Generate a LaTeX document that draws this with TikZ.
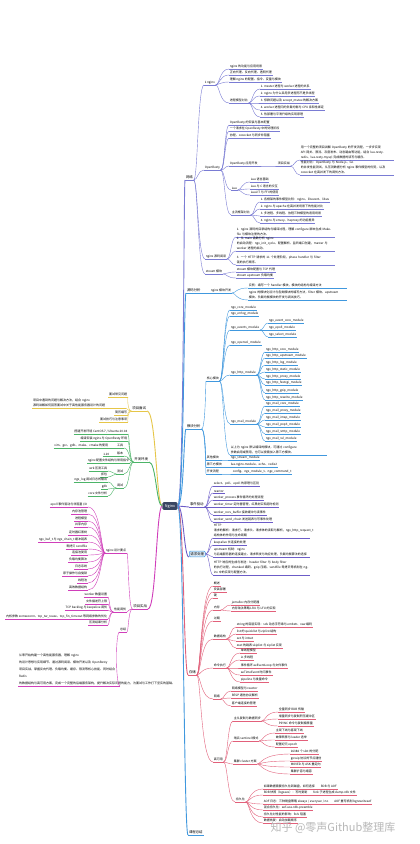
\documentclass[tikz,border=0pt]{standalone}
\usepackage{fontspec}
\setmainfont{Noto Sans CJK SC}
\usetikzlibrary{calc}

\definecolor{croot}{RGB}{58,70,98}
\definecolor{cnet}{RGB}{122,124,212}
\definecolor{cblue}{RGB}{64,152,222}
\definecolor{cpurp}{RGB}{108,92,200}
\definecolor{cred}{RGB}{226,96,122}
\definecolor{cyel}{RGB}{230,198,72}
\definecolor{cgrn}{RGB}{76,180,104}
\definecolor{cmag}{RGB}{208,62,186}

\tikzset{
  curvy/.style={to path={(\tikztostart) .. controls ($(\tikztostart)+(#1,0)$) and ($(\tikztostart |- \tikztotarget)+(#1,0)$) .. (\tikztotarget)}},
  rlink/.style={curvy=4, draw=#1, line width=.4pt},
  llink/.style={curvy=-4, draw=#1, line width=.4pt},
  rtrunk/.style={curvy=6, draw=#1, line width=.9pt},
  ltrunk/.style={curvy=-6, draw=#1, line width=.9pt},
  uline/.style={append after command={(\tikzlastnode.south west) edge[draw=#1, line width=.4pt] (\tikzlastnode.south east)}},
  leaf/.style={uline=#1, inner sep=.6pt, anchor=south west, font=\fontsize{3}{5}\selectfont},
  lleaf/.style={leaf=#1, anchor=south east},
  para/.style 2 args={leaf=#1, text width=#2pt, align=left},
  lpara/.style 2 args={lleaf=#1, text width=#2pt, align=left},
  topic/.style={append after command={(\tikzlastnode.south west) edge[draw=#1, line width=.9pt] (\tikzlastnode.south east)}, inner sep=.8pt, anchor=south west, font=\fontsize{3.4}{4}\selectfont},
  ltopic/.style={topic=#1, anchor=south east},
  rootbox/.style={fill=croot, text=white, rounded corners=1.5pt, inner xsep=2.5pt, inner ysep=2pt, font=\fontsize{3.8}{4}\selectfont},
  reqbox/.style={fill=cblue!18, draw=cblue, line width=.5pt, rounded corners=1pt, inner sep=1.2pt, anchor=south west, font=\fontsize{3.4}{4}\selectfont},
  wmark/.style={text=black!28, font=\fontsize{11}{12}\selectfont}
}

\begin{document}
\begin{tikzpicture}[x=1pt,y=-1pt]
\fill[white] (0,0) rectangle (420,844);
\useasboundingbox (0,0) rectangle (420,844);

% centre
\node[rootbox] (root) at (170,506) {Nginx};

% first level, right
\node[topic=cnet] (net) at (185,180) {网络};
\node[topic=cblue] (src) at (186,293) {源码分析};
\node[topic=cblue] (mod) at (186,429) {模块分析};
\node[topic=cpurp] (evt) at (189,507) {事件驱动};
\node[reqbox] (req) at (189,557) {请求处理};
\node[topic=cred] (sto) at (188,675) {存储};
\node[topic=cblue] (bot) at (188,835) {课程总结};

% first level, left
\node[ltopic=cyel] (itv) at (147,411) {项目面试};
\node[ltopic=cgrn] (env) at (149,462) {开发环境};
\node[ltopic=cmag] (prj) at (148,609) {项目实战};

\foreach \b/\col in {net/cnet,src/cblue,mod/cblue,evt/cpurp,req/cpurp,sto/cred,bot/cblue}
  \draw[rtrunk=\col] (root.east) to (\b.south west);
\foreach \b/\col in {itv/cyel,env/cgrn,prj/cmag}
  \draw[ltrunk=\col] (root.west) to (\b.south east);

%% ---- 网络
\node[leaf=cnet] (n1) at (204,85) {1 nginx};
\foreach \yy/\txt [count=\i] in {69/{nginx 的功能与应用场景},75/{正向代理、反向代理、透明代理},82/{理解 nginx 的配置、指令、变量与模块}}
  \node[leaf=cnet] (n1\i) at (229,\yy) {\txt};
\node[leaf=cnet] (n1m) at (229,103) {进程模型对比};
\foreach \yy/\txt [count=\i] in {89/{1. master 进程与 worker 进程的关系},96/{2. nginx 为什么采用多进程而不是多线程},103/{3. 惊群问题以及 accept\_mutex 的解决方案},110/{4. worker 进程间的负载均衡与 CPU 亲和性绑定},117/{5. 热部署与平滑升级的实现原理}}
  \node[leaf=cnet] (n1m\i) at (260,\yy) {\txt};

\node[leaf=cnet] (n2) at (204,170) {OpenResty};
\foreach \yy/\txt [count=\i] in {125/{OpenResty 的安装与基本配置},131/{一个请求在 OpenResty 中的处理阶段},138/{协程、cosocket 与同步非阻塞}}
  \node[leaf=cnet] (n2\i) at (229,\yy) {\txt};
\node[leaf=cnet] (n2d) at (229,166) {OpenResty 应用开发};
\node[leaf=cnet] (n2e) at (277,166) {项目实战};
\node[para={cnet}{92}] (n2p1) at (300,160) {用一个完整的项目讲解 OpenResty 的开发流程，一步步实现 API 网关、限流、灰度发布、动态路由等功能，结合 lua-resty-redis、lua-resty-mysql 完成数据的读写与缓存。};
\node[para={cnet}{92}] (n2p2) at (300,175) {性能对比：OpenResty 与 Node.js、Go 的并发性能测试，从压测数据分析 nginx 事件模型的优势，以及 cosocket 在高并发下的调优方法。};
\node[leaf=cnet] (n2f) at (231,190) {Lua};
\foreach \yy/\txt [count=\i] in {182/{Lua 语言基础},189/{Lua 与 C 语言的交互},195/{LuaJIT 与 FFI 的使用}}
  \node[leaf=cnet] (n2f\i) at (250,\yy) {\txt};
\node[leaf=cnet] (n2g) at (231,215) {主流框架对比};
\foreach \yy/\txt [count=\i] in {202/{1. 各框架的事件模型比较：nginx、libevent、libuv},209/{2. nginx 与 apache 在高并发场景下的性能对比},216/{3. 多进程、多线程、协程三种模型的适用场景},223/{4. nginx 与 envoy、haproxy 的功能差异}}
  \node[leaf=cnet] (n2g\i) at (260,\yy) {\txt};

\node[leaf=cnet] (n3) at (205,259) {nginx 源码阅读};
\node[para={cnet}{97}] (n3p1) at (236,237) {1. nginx 源码的目录结构与编译过程，理解 configure 脚本生成 Makefile 与模块注册的方法。};
\node[para={cnet}{97}] (n3p2) at (236,251) {2. 从 main 函数分析 nginx 的启动流程：ngx\_init\_cycle、配置解析、监听端口创建，master 与 worker 进程的启动。};
\node[para={cnet}{97}] (n3p3) at (236,265) {3. 一个 HTTP 请求的 11 个处理阶段，phase handler 与 filter 链的执行顺序。};
\node[leaf=cnet] (n4) at (205,274) {stream 模块};
\node[leaf=cnet] (n4a) at (236,272) {stream 模块配置与 TCP 代理};
\node[leaf=cnet] (n4b) at (236,278) {stream upstream 负载均衡};

\foreach \ch in {n1,n2,n3,n4} \draw[rlink=cnet] (net.south east) to (\ch.south west);
\foreach \ch in {n11,n12,n13,n1m} \draw[rlink=cnet] (n1.south east) to (\ch.south west);
\foreach \i in {1,...,5} \draw[rlink=cnet] (n1m.south east) to (n1m\i.south west);
\foreach \ch in {n21,n22,n23,n2d,n2f,n2g} \draw[rlink=cnet] (n2.south east) to (\ch.south west);
\draw[rlink=cnet] (n2d.south east) to (n2e.south west);
\foreach \ch in {n2p1,n2p2} \draw[rlink=cnet] (n2e.south east) to (\ch.south west);
\foreach \i in {1,2,3} \draw[rlink=cnet] (n2f.south east) to (n2f\i.south west);
\foreach \i in {1,...,4} \draw[rlink=cnet] (n2g.south east) to (n2g\i.south west);
\foreach \ch in {n3p1,n3p2,n3p3} \draw[rlink=cnet] (n3.south east) to (\ch.south west);
\foreach \ch in {n4a,n4b} \draw[rlink=cnet] (n4.south east) to (\ch.south west);

%% ---- 源码分析
\node[leaf=cblue] (s1) at (210,293) {nginx 模块开发};
\node[para={cblue}{97}] (s1a) at (248,288) {实例：编写一个 handler 模块，模块的结构与编译方法};
\node[para={cblue}{97}] (s1b) at (248,300) {nginx 的模块化设计与各类模块的编写方法，filter 模块、upstream 模块、负载均衡模块的开发与调试技巧。};
\draw[rlink=cblue] (src.south east) to (s1.south west);
\foreach \ch in {s1a,s1b} \draw[rlink=cblue] (s1.south east) to (\ch.south west);

%% ---- 模块分析
\node[leaf=cblue] (m1) at (206,381) {核心模块};
\node[leaf=cblue] (m1a) at (230,310) {ngx\_core\_module};
\node[leaf=cblue] (m1b) at (230,316) {ngx\_errlog\_module};
\node[leaf=cblue] (m1c) at (230,330) {ngx\_events\_module};
\foreach \yy/\txt [count=\i] in {323/{ngx\_event\_core\_module},330/{ngx\_epoll\_module},337/{ngx\_select\_module}}
  \node[leaf=cblue] (m1c\i) at (268,\yy) {\txt};
\node[leaf=cblue] (m1d) at (230,345) {ngx\_openssl\_module};
\node[leaf=cblue] (m1e) at (230,375) {ngx\_http\_module};
\foreach \yy/\txt [count=\i] in {352/{ngx\_http\_core\_module},358/{ngx\_http\_upstream\_module},365/{ngx\_http\_log\_module},372/{ngx\_http\_static\_module},379/{ngx\_http\_proxy\_module},385/{ngx\_http\_fastcgi\_module},393/{ngx\_http\_gzip\_module},400/{ngx\_http\_rewrite\_module}}
  \node[leaf=cblue] (m1e\i) at (265,\yy) {\txt};
\node[leaf=cblue] (m1f) at (230,424) {ngx\_mail\_module};
\foreach \yy/\txt [count=\i] in {406/{ngx\_mail\_core\_module},413/{ngx\_mail\_proxy\_module},420/{ngx\_mail\_imap\_module},427/{ngx\_mail\_pop3\_module},434/{ngx\_mail\_smtp\_module},441/{ngx\_mail\_ssl\_module}}
  \node[leaf=cblue] (m1f\i) at (265,\yy) {\txt};
\node[para={cblue}{95}] (m1g) at (230,455) {以上为 nginx 默认编译的模块，可通过 configure 参数启用或禁用，也可以按需加入第三方模块。};
\node[leaf=cblue] (m2) at (206,460) {其他模块};
\node[leaf=cblue] (m2a) at (230,460) {ngx\_stream\_module};
\node[leaf=cblue] (m3) at (206,467) {第三方模块};
\node[leaf=cblue] (m3a) at (230,467) {lua-nginx-module、echo、redis2};
\node[leaf=cblue] (m4) at (206,474) {开发流程};
\node[leaf=cblue] (m4a) at (232,474) {config、ngx\_module\_t、ngx\_command\_t};

\foreach \ch in {m1,m2,m3,m4} \draw[rlink=cblue] (mod.south east) to (\ch.south west);
\foreach \ch in {m1a,m1b,m1c,m1d,m1e,m1f,m1g} \draw[rlink=cblue] (m1.south east) to (\ch.south west);
\foreach \i in {1,2,3} \draw[rlink=cblue] (m1c.south east) to (m1c\i.south west);
\foreach \i in {1,...,8} \draw[rlink=cblue] (m1e.south east) to (m1e\i.south west);
\foreach \i in {1,...,6} \draw[rlink=cblue] (m1f.south east) to (m1f\i.south west);
\draw[rlink=cblue] (m2.south east) to (m2a.south west);
\draw[rlink=cblue] (m3.south east) to (m3a.south west);
\draw[rlink=cblue] (m4.south east) to (m4a.south west);

%% ---- 事件驱动
\foreach \yy/\txt [count=\i] in {486/{select、poll、epoll 的原理与区别},493/{reactor},500/{worker\_process 事件循环的处理流程},507/{worker\_timer 定时器管理，红黑树实现超时检测},515/{worker\_recv\_buffer 接收缓冲与读事件},522/{worker\_send\_chain 发送链表与写事件处理}}
  \node[leaf=cpurp] (e\i) at (213,\yy) {\txt};
\foreach \i in {1,...,6} \draw[rlink=cpurp] (evt.south east) to (e\i.south west);

%% ---- 请求处理
\node[para={cpurp}{95}] (r1) at (213,538) {HTTP 请求的解析：请求行、请求头、请求体的读取与解析，ngx\_http\_request\_t 结构体的作用与生命周期};
\node[leaf=cpurp] (r2) at (213,545) {keepalive 长连接的处理};
\node[para={cpurp}{95}] (r3) at (213,557) {upstream 机制：nginx 与后端服务器的连接建立、请求转发与响应处理，负载均衡算法的选择};
\node[para={cpurp}{95}] (r4) at (213,575) {HTTP 响应的生成与发送：header filter 与 body filter 的执行过程，chunked 编码、gzip 压缩、sendfile 零拷贝等机制在 nginx 中的实现与配置方法。};
\foreach \ch in {r1,r2,r3,r4} \draw[rlink=cpurp] (req.east) to (\ch.south west);

%% ---- 存储
\foreach \yy/\txt [count=\i] in {586/{概述},592/{安装部署},598/{键}}
  \node[leaf=cred] (t\i) at (213,\yy) {\txt};
\node[leaf=cred] (t4) at (213,610) {内存};
\node[leaf=cred] (t4a) at (231,605) {jemalloc 内存分配器};
\node[leaf=cred] (t4b) at (231,611) {内存淘汰策略 LRU 与 LFU 的实现};
\node[leaf=cred] (t5) at (213,621) {过期};
\node[leaf=cred] (t6) at (213,639) {数据结构};
\foreach \yy/\txt [count=\i] in {627/{string 的底层实现：sds 动态字符串与 embstr、raw 编码},634/{list 的 quicklist 与 ziplist 结构},641/{set 与 intset},648/{zset 的跳表 skiplist 与 ziplist 实现}}
  \node[leaf=cred] (t6\i) at (236,\yy) {\txt};
\node[leaf=cred] (t7) at (213,668) {命令执行};
\foreach \yy/\txt [count=\i] in {653/{单线程模型},660/{io 多线程},668/{事件循环 aeEventLoop 与文件事件},675/{aeTimeEvent 时间事件},682/{pipeline 与批量命令}}
  \node[leaf=cred] (t7\i) at (240,\yy) {\txt};
\node[leaf=cred] (t8) at (213,699) {网络};
\foreach \yy/\txt [count=\i] in {691/{网络模型与 reactor},698/{RESP 通信协议解析},706/{客户端连接的管理}}
  \node[leaf=cred] (t8\i) at (231,\yy) {\txt};
\node[leaf=cred] (t9) at (213,762) {高可用};
\node[leaf=cred] (t9a) at (233,721) {主从复制与数据同步};
\foreach \yy/\txt [count=\i] in {712/{全量同步 RDB 传输},719/{增量同步与复制积压缓冲区},726/{PSYNC 命令与复制偏移量}}
  \node[leaf=cred] (t9a\i) at (278,\yy) {\txt};
\node[leaf=cred] (t9b) at (233,741) {哨兵 sentinel 模式};
\foreach \yy/\txt [count=\i] in {733/{主观下线与客观下线},740/{故障转移与 leader 选举},747/{配置纪元 epoch}}
  \node[leaf=cred] (t9b\i) at (275,\yy) {\txt};
\node[leaf=cred] (t9c) at (233,764) {集群 cluster 方案};
\foreach \yy/\txt [count=\i] in {754/{16384 个 slot 的分配},761/{gossip 协议的节点通信},767/{MOVED 与 ASK 重定向},774/{集群扩容与缩容}}
  \node[leaf=cred] (t9c\i) at (290,\yy) {\txt};
\node[leaf=cred] (t9d) at (235,802) {持久化};
\foreach \yy/\txt [count=\i] in {789/{如果数据需要持久化到磁盘，如何选择\qquad RDB 与 AOF},795/{RDB 快照（bgsave）：写时复制\qquad fork 子进程生成 dump.rdb 文件},804/{AOF 日志：三种刷盘策略 always / everysec / no\qquad AOF 重写机制 bgrewriteaof},810/{混合持久化：aof-use-rdb-preamble},817/{持久化对性能的影响：fork 阻塞},823/{数据恢复：启动加载顺序}}
  \node[leaf=cred] (t9d\i) at (263,\yy) {\txt};

\foreach \ch in {t1,t2,t3,t4,t5,t6,t7,t8,t9} \draw[rlink=cred] (sto.south east) to (\ch.south west);
\foreach \ch in {t4a,t4b} \draw[rlink=cred] (t4.south east) to (\ch.south west);
\foreach \i in {1,...,4} \draw[rlink=cred] (t6.south east) to (t6\i.south west);
\foreach \i in {1,...,5} \draw[rlink=cred] (t7.south east) to (t7\i.south west);
\foreach \i in {1,2,3} \draw[rlink=cred] (t8.south east) to (t8\i.south west);
\foreach \ch in {t9a,t9b,t9c,t9d} \draw[rlink=cred] (t9.south east) to (\ch.south west);
\foreach \i in {1,2,3} \draw[rlink=cred] (t9a.south east) to (t9a\i.south west);
\foreach \i in {1,2,3} \draw[rlink=cred] (t9b.south east) to (t9b\i.south west);
\foreach \i in {1,...,4} \draw[rlink=cred] (t9c.south east) to (t9c\i.south west);
\foreach \i in {1,...,6} \draw[rlink=cred] (t9d.south east) to (t9d\i.south west);

%% ---- 项目面试
\node[lleaf=cyel] (y1) at (128,397) {面试常见问题};
\node[lpara={cyel}{92}] (y2) at (126,408) {项目中遇到的问题与解决方法，结合 nginx 源码讲解如何回答面试中关于高性能服务器设计的问题};
\node[lleaf=cyel] (y3) at (128,415) {简历编写};
\node[lleaf=cyel] (y4) at (128,422) {面试技巧与注意事项};
\foreach \ch in {y1,y2,y3,y4} \draw[llink=cyel] (itv.south west) to (\ch.south east);

%% ---- 开发环境
\node[lleaf=cgrn] (g1) at (128,434) {搭建开发环境 CentOS 7 / Ubuntu 20.04};
\node[lleaf=cgrn] (g2) at (128,441) {编译安装 nginx 与 OpenResty 环境};
\node[lleaf=cgrn] (g3) at (124,448) {工具};
\node[lleaf=cgrn] (g3a) at (109,448) {vim、gcc、gdb、make、cmake 的使用};
\node[lleaf=cgrn] (g4) at (124,456) {版本};
\node[lleaf=cgrn] (g4a) at (110,456) {1.20};
\node[lleaf=cgrn] (g5) at (130,463) {nginx 配置文件结构与常用指令};
\node[lleaf=cgrn] (g6) at (124,474) {测试};
\node[lleaf=cgrn] (g6a) at (108,471) {wrk 压测工具};
\node[lleaf=cgrn] (g6b) at (108,477) {抓包};
\node[lleaf=cgrn] (g7) at (124,488) {调试};
\node[lleaf=cgrn] (g7a) at (108,482) {ngx\_log 调试日志的输出};
\node[lleaf=cgrn] (g7b) at (108,489) {gdb};
\node[lleaf=cgrn] (g7c) at (108,496) {core 文件分析};
\foreach \ch in {g1,g2,g3,g4,g5,g6,g7} \draw[llink=cgrn] (env.south west) to (\ch.south east);
\draw[llink=cgrn] (g3.south west) to (g3a.south east);
\draw[llink=cgrn] (g4.south west) to (g4a.south east);
\foreach \ch in {g6a,g6b} \draw[llink=cgrn] (g6.south west) to (\ch.south east);
\foreach \ch in {g7a,g7b,g7c} \draw[llink=cgrn] (g7.south west) to (\ch.south east);

%% ---- 项目实战
\node[lleaf=cmag] (p1) at (127,553) {nginx 设计要点};
\foreach \yy/\txt [count=\i] in {507/{epoll 事件驱动与非阻塞 I/O},514/{内存池管理},521/{进程模型},527/{共享内存},535/{定时器红黑树},542/{ngx\_buf\_t 与 ngx\_chain\_t 缓冲链表},549/{零拷贝 sendfile},555/{连接池复用},562/{负载均衡算法},569/{日志系统},576/{原子操作与自旋锁},583/{线程池},590/{高效数据结构}}
  \node[lleaf=cmag] (p1\i) at (88,\yy) {\txt};
\node[lleaf=cmag] (p2) at (127,612) {性能调优};
\foreach \yy/\txt [count=\i] in {597/{worker 数量设置},604/{文件描述符上限},610/{TCP backlog 与 keepalive 调优},619/{内核参数 somaxconn、tcp\_tw\_reuse、tcp\_fin\_timeout 等网络参数的优化},625/{压测结果分析}}
  \node[lleaf=cmag] (p2\i) at (108,\yy) {\txt};
\node[lleaf=cmag] (p3) at (127,632) {总结};
\node[lpara={cmag}{100}, font=\fontsize{3}{7}\selectfont] (p3a) at (120,686) {从零开始构建一个高性能服务器，理解 nginx 的设计思想与实现细节。通过源码阅读、模块开发以及 OpenResty 项目实战，掌握反向代理、负载均衡、缓存、限流等核心技能。同时结合 Redis 的数据结构与高可用方案，完成一个完整的后端服务架构，提升解决实际问题的能力，为面试与工作打下坚实的基础。};
\foreach \ch in {p1,p2,p3} \draw[llink=cmag] (prj.south west) to (\ch.south east);
\foreach \i in {1,...,13} \draw[llink=cmag] (p1.south west) to (p1\i.south east);
\foreach \i in {1,...,5} \draw[llink=cmag] (p2.south west) to (p2\i.south east);
\draw[llink=cmag] (p3.south west) to (p3a.south east);

% watermark
\node[wmark] (wm) at (333,828) {知乎 @零声Github整理库};
\end{tikzpicture}
\end{document}
